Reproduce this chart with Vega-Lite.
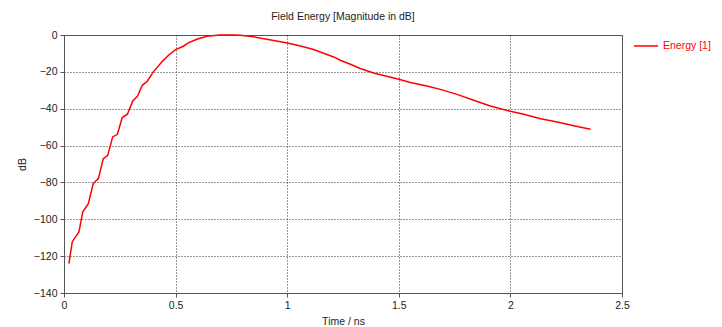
{
  "$schema": "https://vega.github.io/schema/vega-lite/v6.json",
  "width": 558,
  "height": 258,
  "autosize": {"type": "none"},
  "padding": {"left": 64, "top": 35, "right": 100, "bottom": 34},
  "background": "white",
  "title": {"text": "Field Energy [Magnitude in dB]", "font": "Liberation Sans", "fontSize": 10.5, "fontWeight": "normal", "color": "#222", "offset": 8, "anchor": "middle"},
  "config": {
    "view": {"stroke": "#666", "strokeWidth": 1},
    "axis": {"labelFont": "Liberation Sans", "titleFont": "Liberation Sans", "labelFontSize": 10.5, "titleFontSize": 10.5, "titleFontWeight": "normal", "labelColor": "#222", "titleColor": "#222", "domainColor": "#555", "tickColor": "#555", "tickSize": 4, "gridColor": "#333", "gridDash": [1, 2], "gridWidth": 1, "gridOpacity": 1}
  },
  "data": {"values": [
    {"t": 0.022, "e": -124}, {"t": 0.037, "e": -112.3}, {"t": 0.046, "e": -110.5}, {"t": 0.067, "e": -106.9},
    {"t": 0.084, "e": -96}, {"t": 0.109, "e": -91.5}, {"t": 0.131, "e": -80.6}, {"t": 0.154, "e": -77.9},
    {"t": 0.176, "e": -67.1}, {"t": 0.196, "e": -65.3}, {"t": 0.218, "e": -55.3}, {"t": 0.239, "e": -53.9},
    {"t": 0.261, "e": -44.8}, {"t": 0.284, "e": -43}, {"t": 0.308, "e": -35.8}, {"t": 0.329, "e": -33.3},
    {"t": 0.351, "e": -27.3}, {"t": 0.373, "e": -25.1}, {"t": 0.4, "e": -20}, {"t": 0.438, "e": -14.6},
    {"t": 0.468, "e": -11}, {"t": 0.5, "e": -7.9}, {"t": 0.535, "e": -6.1}, {"t": 0.557, "e": -4.3},
    {"t": 0.595, "e": -2.3}, {"t": 0.64, "e": -0.7}, {"t": 0.7, "e": 0}, {"t": 0.76, "e": 0},
    {"t": 0.79, "e": -0.2}, {"t": 0.85, "e": -1.0}, {"t": 0.909, "e": -2.3}, {"t": 1.0, "e": -4.3},
    {"t": 1.06, "e": -6}, {"t": 1.118, "e": -7.9}, {"t": 1.208, "e": -11.9}, {"t": 1.238, "e": -13.7},
    {"t": 1.283, "e": -15.9}, {"t": 1.327, "e": -18.2}, {"t": 1.387, "e": -20.6}, {"t": 1.5, "e": -24},
    {"t": 1.552, "e": -25.8}, {"t": 1.626, "e": -27.7}, {"t": 1.686, "e": -29.5}, {"t": 1.761, "e": -32.2},
    {"t": 1.835, "e": -35.4}, {"t": 1.91, "e": -38.5}, {"t": 2.0, "e": -41.4}, {"t": 2.06, "e": -43},
    {"t": 2.135, "e": -45.4}, {"t": 2.21, "e": -47.2}, {"t": 2.284, "e": -49.2}, {"t": 2.359, "e": -51.2}
  ]},
  "mark": {"type": "line", "strokeWidth": 1.5, "interpolate": "linear"},
  "encoding": {
    "x": {"field": "t", "type": "quantitative", "scale": {"domain": [0, 2.5], "nice": false},
      "axis": {"title": "Time / ns", "values": [0, 0.5, 1, 1.5, 2, 2.5], "format": "~g", "labelPadding": 3, "titlePadding": 6, "labelFlush": false}},
    "y": {"field": "e", "type": "quantitative", "scale": {"domain": [-140, 0], "nice": false},
      "axis": {"title": "dB", "values": [0, -20, -40, -60, -80, -100, -120, -140], "labelPadding": 3, "titlePadding": 6, "labelFlush": false}},
    "color": {"datum": "Energy [1]", "type": "nominal", "scale": {"range": ["#ff0000"]},
      "legend": {"title": null, "orient": "none", "legendX": 569, "legendY": -2, "symbolType": "stroke", "symbolSize": 576, "symbolStrokeWidth": 1.5, "labelColor": "#ff0000", "labelFont": "Liberation Sans", "labelFontSize": 10.5, "labelOffset": 4, "padding": 0}}
  }
}
